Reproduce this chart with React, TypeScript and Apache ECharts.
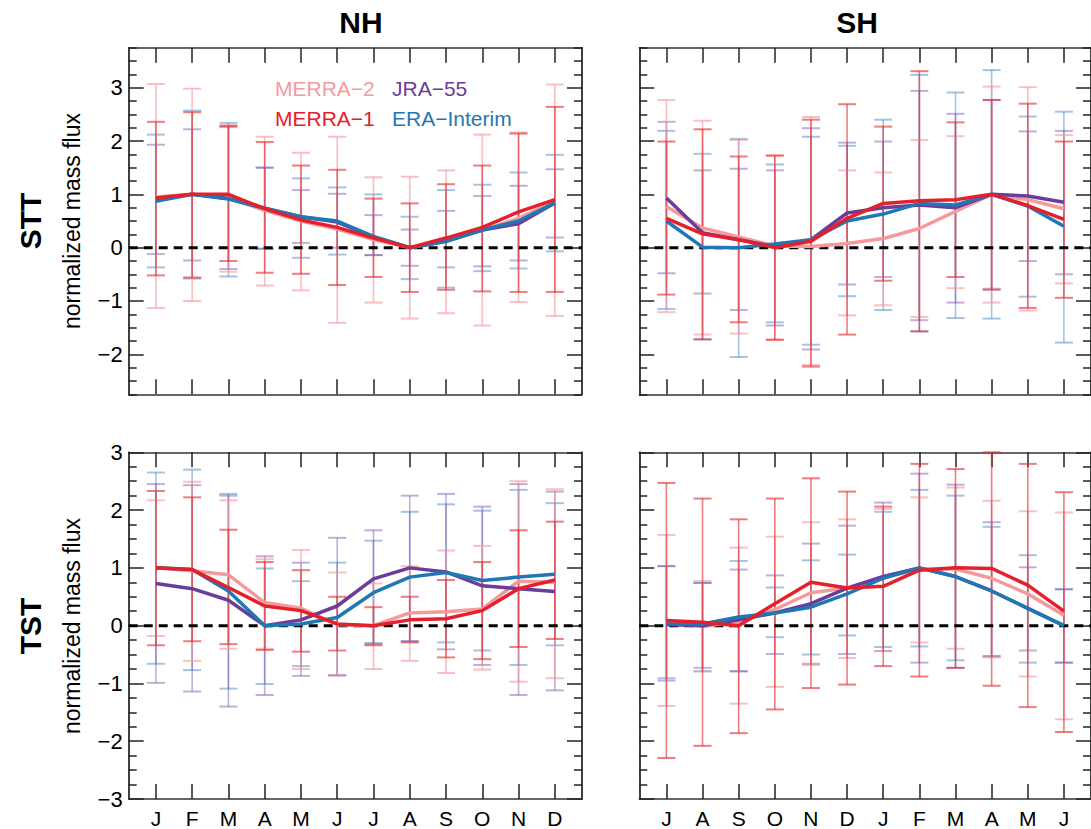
import React, { useEffect, useRef } from 'react';
import * as echarts from 'echarts';

// ---------- categories & ticks ----------
const NH_MONTHS = ['J', 'F', 'M', 'A', 'M', 'J', 'J', 'A', 'S', 'O', 'N', 'D'];
const SH_MONTHS = ['J', 'A', 'S', 'O', 'N', 'D', 'J', 'F', 'M', 'A', 'M', 'J'];
const MONTH_IDX = [0, 1, 2, 3, 4, 5, 6, 7, 8, 9, 10, 11];
const STT_TICKS = [-2, -1, 0, 1, 2, 3];
const TST_TICKS = [-3, -2, -1, 0, 1, 2, 3];
const DATASETS = ['MERRA\u22122', 'MERRA\u22121', 'JRA\u221255', 'ERA\u2212Interim'];

// ---------- NH STT ----------
const nhSttM2 = [0.95, 1.0, 0.93, 0.7, 0.5, 0.35, 0.15, 0.0, 0.13, 0.33, 0.55, 0.87];
const nhSttM2Hi = [3.07, 2.98, 2.3, 2.08, 1.78, 2.08, 1.32, 1.33, 1.45, 2.12, 2.16, 3.06];
const nhSttM2Lo = [-1.13, -1.0, -0.45, -0.71, -0.8, -1.41, -1.03, -1.33, -1.23, -1.46, -1.02, -1.28];
const nhSttM1 = [0.93, 1.0, 1.0, 0.73, 0.52, 0.38, 0.18, 0.0, 0.18, 0.38, 0.67, 0.9];
const nhSttM1Hi = [2.36, 2.54, 2.28, 1.98, 1.54, 1.46, 0.92, 0.83, 1.19, 1.54, 2.14, 2.64];
const nhSttM1Lo = [-0.52, -0.56, -0.25, -0.47, -0.49, -0.7, -0.55, -0.83, -0.79, -0.82, -0.83, -0.83];
const nhSttJra = [0.9, 1.0, 0.92, 0.74, 0.58, 0.48, 0.2, 0.0, 0.12, 0.33, 0.45, 0.84];
const nhSttJraHi = [1.93, 2.22, 2.26, 1.5, 1.08, 1.01, 0.61, 0.34, 0.69, 0.97, 1.16, 1.47];
const nhSttJraLo = [-0.12, -0.24, -0.4, -0.02, 0.09, 0.0, -0.14, -0.34, -0.37, -0.35, -0.24, 0.19];
const nhSttEra = [0.87, 1.0, 0.91, 0.74, 0.58, 0.5, 0.21, 0.0, 0.12, 0.33, 0.5, 0.84];
const nhSttEraHi = [2.12, 2.57, 2.34, 1.5, 1.3, 1.13, 1.0, 0.58, 1.08, 1.18, 1.41, 1.74];
const nhSttEraLo = [-0.37, -0.58, -0.54, -0.02, -0.19, -0.13, -0.14, -0.59, -0.75, -0.44, -0.39, -0.07];

// ---------- SH STT ----------
const shSttM2 = [0.77, 0.37, 0.2, 0.03, 0.02, 0.08, 0.17, 0.36, 0.68, 1.0, 0.9, 0.73];
const shSttM2Hi = [2.77, 2.38, 2.02, 1.72, 2.45, 1.45, 1.41, 2.02, 2.09, 3.02, 3.01, 2.11];
const shSttM2Lo = [-1.21, -1.63, -1.61, -1.72, -2.2, -1.27, -1.08, -1.3, -0.76, -1.03, -1.18, -0.67];
const shSttM1 = [0.55, 0.26, 0.15, 0.0, 0.12, 0.55, 0.83, 0.88, 0.9, 1.0, 0.79, 0.53];
const shSttM1Hi = [1.99, 2.22, 1.71, 1.73, 2.4, 2.69, 2.27, 3.31, 2.35, 2.77, 2.7, 1.99];
const shSttM1Lo = [-0.88, -1.72, -1.4, -1.73, -2.23, -1.63, -0.62, -1.57, -0.55, -0.79, -1.13, -0.94];
const shSttJra = [0.93, 0.28, 0.15, 0.02, 0.15, 0.65, 0.75, 0.8, 0.75, 1.0, 0.97, 0.85];
const shSttJraHi = [2.36, 1.45, 1.48, 1.45, 2.24, 1.97, 1.99, 2.94, 2.51, 2.77, 2.18, 2.19];
const shSttJraLo = [-0.48, -0.86, -1.17, -1.46, -1.91, -0.69, -0.55, -1.36, -1.03, -0.77, -0.25, -0.5];
const shSttEra = [0.5, 0.01, 0.0, 0.07, 0.15, 0.5, 0.63, 0.83, 0.8, 1.0, 0.78, 0.4];
const shSttEraHi = [2.19, 1.76, 2.04, 1.56, 2.08, 1.91, 2.4, 3.24, 2.91, 3.33, 2.46, 2.55];
const shSttEraLo = [-1.15, -1.72, -2.05, -1.4, -1.82, -0.91, -1.17, -1.57, -1.32, -1.33, -0.92, -1.78];

// ---------- NH TST ----------
const nhTstM2 = [1.0, 0.95, 0.88, 0.4, 0.3, 0.02, 0.0, 0.22, 0.24, 0.29, 0.77, 0.75];
const nhTstM2Hi = [2.17, 2.49, 2.17, 1.15, 1.31, 0.92, 0.73, 1.03, 1.3, 1.38, 2.5, 2.36];
const nhTstM2Lo = [-0.18, -0.61, -0.4, -0.4, -0.75, -0.86, -0.75, -0.61, -0.82, -0.76, -0.97, -0.91];
const nhTstM1 = [1.0, 0.97, 0.66, 0.34, 0.26, 0.03, 0.0, 0.1, 0.12, 0.26, 0.64, 0.79];
const nhTstM1Hi = [2.33, 2.22, 1.66, 1.1, 0.96, 0.5, 0.32, 0.5, 0.79, 1.1, 1.65, 1.8];
const nhTstM1Lo = [-0.34, -0.27, -0.32, -0.42, -0.45, -0.43, -0.34, -0.29, -0.55, -0.58, -0.37, -0.23];
const nhTstJra = [0.73, 0.64, 0.44, 0.0, 0.1, 0.34, 0.81, 1.0, 0.93, 0.69, 0.64, 0.59];
const nhTstJraHi = [2.45, 2.43, 2.25, 1.2, 1.09, 1.52, 1.65, 2.25, 2.28, 2.06, 2.45, 2.32];
const nhTstJraLo = [-0.99, -1.14, -1.4, -1.2, -0.87, -0.86, -0.32, -0.27, -0.41, -0.68, -1.2, -1.12];
const nhTstEra = [1.0, 0.97, 0.6, 0.0, 0.03, 0.14, 0.57, 0.84, 0.92, 0.78, 0.84, 0.89];
const nhTstEraHi = [2.65, 2.7, 2.28, 0.99, 0.77, 1.09, 1.47, 1.97, 2.1, 1.99, 2.35, 2.12];
const nhTstEraLo = [-0.66, -0.77, -1.09, -1.01, -0.7, -0.86, -0.3, -0.27, -0.29, -0.43, -0.68, -0.34];

// ---------- SH TST ----------
const shTstM2 = [0.05, 0.0, 0.05, 0.28, 0.57, 0.65, 0.83, 0.98, 0.98, 0.82, 0.55, 0.18];
const shTstM2Hi = [1.57, 0.77, 1.35, 1.54, 1.79, 1.84, 2.02, 2.22, 2.39, 2.16, 1.98, 1.96];
const shTstM2Lo = [-1.39, -0.79, -1.35, -1.06, -0.68, -0.56, -0.44, -0.29, -0.4, -0.55, -0.88, -1.62];
const shTstM1 = [0.09, 0.06, 0.0, 0.38, 0.75, 0.65, 0.68, 0.96, 1.0, 0.99, 0.7, 0.25];
const shTstM1Hi = [2.47, 2.2, 1.84, 2.2, 2.55, 2.32, 2.06, 2.8, 2.71, 3.0, 2.8, 2.31];
const shTstM1Lo = [-2.29, -2.08, -1.86, -1.45, -1.08, -1.02, -0.7, -0.88, -0.73, -1.04, -1.41, -1.84];
const shTstJra = [0.02, 0.0, 0.1, 0.22, 0.38, 0.65, 0.85, 1.0, 0.85, 0.6, 0.3, 0.0];
const shTstJraHi = [1.03, 0.74, 0.97, 0.87, 1.42, 1.73, 2.13, 2.63, 2.44, 1.79, 1.01, 0.63];
const shTstJraLo = [-0.95, -0.79, -0.79, -0.49, -0.66, -0.49, -0.44, -0.64, -0.73, -0.53, -0.43, -0.64];
const shTstEra = [0.03, 0.03, 0.15, 0.22, 0.32, 0.55, 0.82, 1.0, 0.85, 0.6, 0.3, 0.0];
const shTstEraHi = [1.03, 0.74, 1.12, 0.66, 1.13, 1.23, 1.97, 2.35, 2.25, 1.71, 1.22, 0.63];
const shTstEraLo = [-0.91, -0.73, -0.79, -0.2, -0.5, -0.17, -0.37, -0.36, -0.6, -0.53, -0.64, -0.64];

// ---------- styling ----------
const FONT = "'Liberation Sans', Arial, Helvetica, sans-serif";
const LINE_COLORS = ['#f59a9c', '#e4202c', '#6a3d9a', '#1f78b4'];
const BAR_COLORS = [
  'rgba(245,150,155,0.6)',
  'rgba(228,45,45,0.62)',
  'rgba(120,75,170,0.45)',
  'rgba(50,125,195,0.45)',
];
// drawing order of error bars: ERA-Interim, JRA-55, MERRA-2, MERRA-1
const BAR_ORDER = [3, 2, 0, 1];
// drawing order of the lines: MERRA-2, JRA-55, ERA-Interim, MERRA-1
const LINE_ORDER = [0, 2, 3, 1];

const PANELS = [
  { months: NH_MONTHS, ticks: STT_TICKS, min: -2.75, max: 3.75, yLabels: true, xLabels: false,
    mean: [nhSttM2, nhSttM1, nhSttJra, nhSttEra], lo: [nhSttM2Lo, nhSttM1Lo, nhSttJraLo, nhSttEraLo],
    hi: [nhSttM2Hi, nhSttM1Hi, nhSttJraHi, nhSttEraHi],
    grid: { left: 128.7, top: 47.7, width: 453.3, height: 346.6 } },
  { months: SH_MONTHS, ticks: STT_TICKS, min: -2.75, max: 3.75, yLabels: false, xLabels: false,
    mean: [shSttM2, shSttM1, shSttJra, shSttEra], lo: [shSttM2Lo, shSttM1Lo, shSttJraLo, shSttEraLo],
    hi: [shSttM2Hi, shSttM1Hi, shSttJraHi, shSttEraHi],
    grid: { left: 639.3, top: 47.7, width: 453.3, height: 346.6 } },
  { months: NH_MONTHS, ticks: TST_TICKS, min: -3, max: 3, yLabels: true, xLabels: true,
    mean: [nhTstM2, nhTstM1, nhTstJra, nhTstEra], lo: [nhTstM2Lo, nhTstM1Lo, nhTstJraLo, nhTstEraLo],
    hi: [nhTstM2Hi, nhTstM1Hi, nhTstJraHi, nhTstEraHi],
    grid: { left: 128.7, top: 452.3, width: 453.3, height: 347 } },
  { months: SH_MONTHS, ticks: TST_TICKS, min: -3, max: 3, yLabels: false, xLabels: true,
    mean: [shTstM2, shTstM1, shTstJra, shTstEra], lo: [shTstM2Lo, shTstM1Lo, shTstJraLo, shTstEraLo],
    hi: [shTstM2Hi, shTstM1Hi, shTstJraHi, shTstEraHi],
    grid: { left: 639.3, top: 452.3, width: 453.3, height: 347 } },
];

function minorTicks(min: number, max: number, major: number[]): number[] {
  const out: number[] = [];
  for (let v = min; v <= max + 1e-9; v += 0.25) {
    const r = Math.round(v * 100) / 100;
    if (!major.includes(r)) out.push(r);
  }
  return out;
}

const fmtY = (v: number) => {
  const r = Math.round(v);
  return r < 0 ? '\u2212' + Math.abs(r) : String(r);
};

const errRender = (color: string) => (params: any, api: any) => {
  const x = api.value(0);
  const lo = api.value(1);
  const hi = api.value(2);
  const a = api.coord([x, hi]);
  const b = api.coord([x, lo]);
  const hw = 9;
  const style = { stroke: color, lineWidth: 1.6 };
  const capStyle = { stroke: color, lineWidth: 2 };
  return {
    type: 'group',
    children: [
      { type: 'line', shape: { x1: a[0], y1: a[1], x2: b[0], y2: b[1] }, style },
      { type: 'line', shape: { x1: a[0] - hw, y1: a[1], x2: a[0] + hw, y2: a[1] }, style: capStyle },
      { type: 'line', shape: { x1: b[0] - hw, y1: b[1], x2: b[0] + hw, y2: b[1] }, style: capStyle },
    ],
  };
};

function buildOption() {
  const axisLine = { show: true, onZero: false, lineStyle: { color: '#333', width: 1.5 } };
  const tickStyle = { color: '#222', width: 1.5 };
  const grid: any[] = [];
  const xAxis: any[] = [];
  const yAxis: any[] = [];
  const series: any[] = [];

  PANELS.forEach((p, g) => {
    grid.push({ ...p.grid });
    const minor = minorTicks(p.min, p.max, p.ticks);
    ['bottom', 'top'].forEach((pos, k) => {
      xAxis.push({
        gridIndex: g, type: 'value', min: -0.75, max: 11.75, position: pos,
        axisLine,
        axisTick: { show: true, inside: true, length: 15, customValues: MONTH_IDX, lineStyle: tickStyle },
        axisLabel: {
          show: k === 0 && p.xLabels, customValues: MONTH_IDX, margin: 9,
          formatter: (v: number) => p.months[Math.round(v)] ?? '',
          fontFamily: FONT, fontSize: 21, color: '#000',
        },
        splitLine: { show: false },
      });
    });
    ['left', 'right'].forEach((pos) => {
      yAxis.push({
        gridIndex: g, type: 'value', min: p.min, max: p.max, position: pos,
        axisLine,
        axisTick: { show: true, inside: true, length: 15, customValues: p.ticks, lineStyle: tickStyle },
        axisLabel: {
          show: pos === 'left' && p.yLabels, customValues: p.ticks, margin: 6,
          formatter: fmtY, fontFamily: FONT, fontSize: 22, color: '#000',
        },
        splitLine: { show: false },
      });
      yAxis.push({
        gridIndex: g, type: 'value', min: p.min, max: p.max, position: pos,
        axisLine,
        axisTick: { show: true, inside: true, length: 8, customValues: minor, lineStyle: tickStyle },
        axisLabel: { show: false },
        splitLine: { show: false },
      });
    });

    const xi = g * 2;
    const yi = g * 4;
    BAR_ORDER.forEach((d) => {
      series.push({
        type: 'custom', name: DATASETS[d] + ' range', xAxisIndex: xi, yAxisIndex: yi, z: 2,
        renderItem: errRender(BAR_COLORS[d]),
        encode: { x: 0, y: [1, 2] },
        data: MONTH_IDX.map((i) => [i, p.lo[d][i], p.hi[d][i]]),
        silent: true,
      });
    });
    series.push({
      type: 'line', name: 'zero', xAxisIndex: xi, yAxisIndex: yi, z: 3,
      data: [[-0.75, 0], [11.75, 0]], symbol: 'none', silent: true,
      lineStyle: { color: '#000', width: 3, type: [9, 6] },
    });
    LINE_ORDER.forEach((d, k) => {
      series.push({
        type: 'line', name: DATASETS[d], xAxisIndex: xi, yAxisIndex: yi, z: 4 + k,
        data: p.mean[d].map((v, i) => [i, v]), symbol: 'none', silent: true,
        lineStyle: { color: LINE_COLORS[d], width: 3.5 },
      });
    });
  });

  const txt = (text: string, x: number, y: number, opts: any = {}) => ({
    type: 'text', x, y, rotation: opts.rotation || 0, z: 100,
    style: {
      text, fill: opts.fill || '#000',
      font: opts.font || `21px ${FONT}`,
      textAlign: opts.align || 'center', textVerticalAlign: 'middle',
      align: opts.align || 'center', verticalAlign: 'middle',
    },
  });

  const graphic = [
    txt('NH', 361, 22, { font: `bold 30px ${FONT}` }),
    txt('SH', 857, 22, { font: `bold 30px ${FONT}` }),
    txt('STT', 30, 221, { font: `bold 30px ${FONT}`, rotation: Math.PI / 2 }),
    txt('TST', 30, 626, { font: `bold 30px ${FONT}`, rotation: Math.PI / 2 }),
    txt('normalized mass flux', 72, 221, { font: `23px ${FONT}`, rotation: Math.PI / 2 }),
    txt('normalized mass flux', 72, 626, { font: `23px ${FONT}`, rotation: Math.PI / 2 }),
    txt(DATASETS[0], 275, 88, { fill: LINE_COLORS[0], align: 'left' }),
    txt(DATASETS[2], 392, 88, { fill: LINE_COLORS[2], align: 'left' }),
    txt(DATASETS[1], 275, 118, { fill: LINE_COLORS[1], align: 'left' }),
    txt(DATASETS[3], 392, 118, { fill: LINE_COLORS[3], align: 'left' }),
  ];

  return { animation: false, backgroundColor: '#fff', grid, xAxis, yAxis, series, graphic };
}

export default function App() {
  const ref = useRef<HTMLDivElement>(null);
  useEffect(() => {
    document.body.style.margin = '0';
    document.body.style.overflow = 'hidden';
    if (!ref.current) return;
    const chart = echarts.init(ref.current, undefined, { renderer: 'svg' });
    chart.setOption(buildOption() as any);
    return () => chart.dispose();
  }, []);
  return <div ref={ref} style={{ width: 1091, height: 829 }} />;
}
